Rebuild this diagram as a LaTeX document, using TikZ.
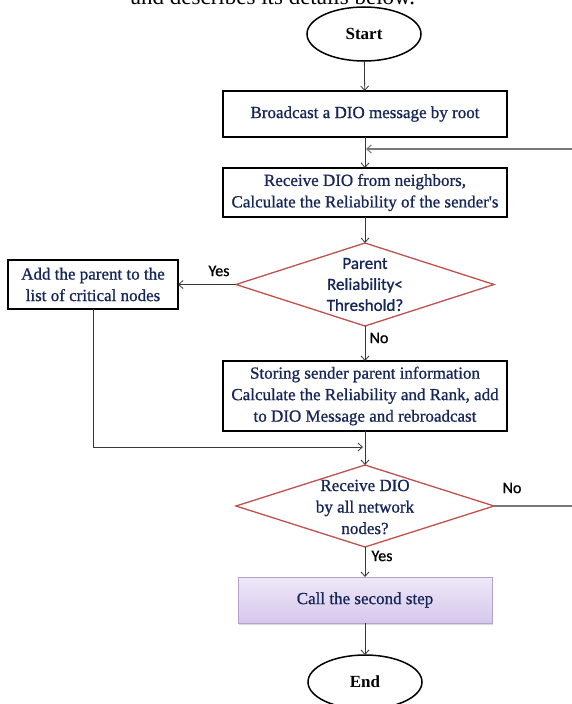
\documentclass[tikz,border=0pt]{standalone}
\usepackage{fontspec}
\setmainfont{Liberation Serif}
\newfontfamily\tserif{Liberation Serif}[FakeBold=0.9]
\newfontfamily\calibri{Carlito}[FakeBold=0.9]
\usetikzlibrary{shapes.geometric,arrows.meta,shadows}
\definecolor{navy}{RGB}{22,38,88}
\definecolor{dred}{RGB}{192,80,77}
\definecolor{lineg}{RGB}{55,55,55}
\definecolor{lineg2}{RGB}{120,120,120}
\definecolor{lavtop}{RGB}{238,232,248}
\definecolor{lavbot}{RGB}{214,200,236}
\definecolor{lavborder}{RGB}{178,162,204}
\tikzset{
  every node/.style={inner sep=0pt, outer sep=0pt},
  procbox/.style={draw=black, line width=1.6pt, fill=white, minimum width=284pt,
    text=navy, font=\tserif\fontsize{17}{21.5}\selectfont, align=center},
  decis/.style={draw=dred, line width=1.3pt, diamond, aspect=3.1,
    minimum width=258pt, minimum height=83pt},
  dtext/.style={align=center, text=navy},
  term/.style={draw=black, line width=1.5pt, ellipse, minimum width=114pt,
    minimum height=54pt, font=\fontsize{17}{20}\selectfont\bfseries},
  lbl/.style={font=\calibri\fontsize{16}{18}\selectfont, text=black},
  arr/.style={draw=lineg, line width=0.8pt,
    -{Straight Barb[length=4.5pt,width=8pt]}},
  conn/.style={draw=lineg, line width=0.8pt},
  fbline/.style={draw=lineg2, line width=1.1pt},
  callbox/.style={draw=lavborder, line width=1pt, top color=lavtop, bottom color=lavbot,
    minimum width=254pt, minimum height=46pt, text=navy,
    font=\tserif\fontsize{17}{20}\selectfont,
    drop shadow={opacity=0.25, shadow xshift=1pt, shadow yshift=-1.5pt, fill=black!60}}
}
\begin{document}
\begin{tikzpicture}[x=1pt,y=-1pt]
\useasboundingbox (0,0) rectangle (572,704);
\clip (0,0) rectangle (572,704);

\node[anchor=base east, font=\fontsize{23}{23}\selectfont] (cap) at (415,4.5)
  {and describes its details below.};

\node[term] (start) at (364,34) {Start};
\node[procbox, minimum height=46pt] (broad) at (365,114) {Broadcast a DIO message by root};
\node[procbox, minimum height=49pt] (recv) at (365,192.5)
  {Receive DIO from neighbors,\\Calculate the Reliability of the sender's};
\node[decis] (d1) at (365,284.5) {};
\node[dtext, font=\calibri\fontsize{17}{21}\selectfont] (d1t) at (365,284.5)
  {Parent\\Reliability<\\Threshold?};
\node[procbox, minimum width=170pt, minimum height=49pt] (add) at (93,284.5)
  {Add the parent to the\\list of critical nodes};
\node[procbox, minimum height=70pt] (store) at (365,396)
  {Storing sender parent information\\Calculate the Reliability and Rank, add\\to DIO Message and rebroadcast};
\node[decis, minimum height=82pt] (d2) at (365,506) {};
\node[dtext, font=\tserif\fontsize{17}{21.5}\selectfont] (d2t) at (365,507)
  {Receive DIO\\by all network\\nodes?};
\node[callbox] (call) at (365,600) {Call the second step};
\node[term] (end) at (365,682) {End};

\coordinate (fbin) at (366,149);
\coordinate (fbtop) at (590,149);
\coordinate (fbbot) at (590,506);
\coordinate (merge) at (363,447);

\draw[arr] (start) -- (broad);
\draw[arr] (broad) -- (recv);
\draw[fbline] (d2.east) -- (fbbot) -- (fbtop);
\draw[arr, draw=lineg2, line width=1.1pt] (fbtop) -- (fbin);
\draw[arr] (recv) -- (d1);
\draw[arr] (d1.west) -- (add.east);
\draw[arr] (d1.south) -- (store.north);
\draw[arr] (add.south) |- (merge);
\draw[arr] (store) -- (d2);
\draw[arr] (d2.south) -- (call.north);
\draw[arr] (call) -- (end);

\node[lbl, anchor=center] (yes1) at (219,271) {Yes};
\node[lbl, anchor=center] (no1) at (379,338) {No};
\node[lbl, anchor=center] (no2) at (512,488) {No};
\node[lbl, anchor=center] (yes2) at (382,556) {Yes};
\end{tikzpicture}
\end{document}
